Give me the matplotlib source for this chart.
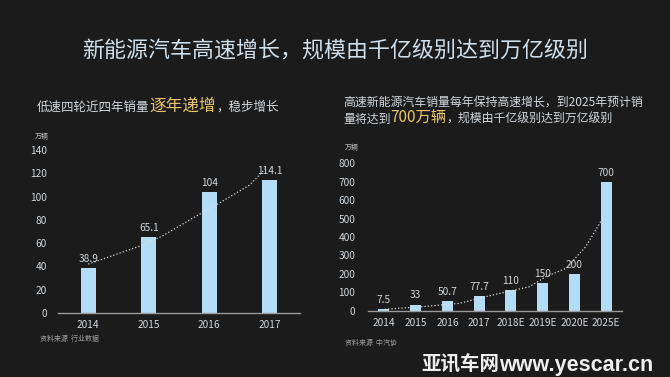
import matplotlib
matplotlib.use("Agg")
import matplotlib.pyplot as plt

plt.rcParams['font.family'] = ['Noto Sans CJK SC', 'DejaVu Sans']

# data
years_left = ['2014', '2015', '2016', '2017']
sales_left = [38.9, 65.1, 104, 114.1]
labels_left = ['38.9', '65.1', '104', '114.1']
trend_left_x = [0, 0.86, 1.22, 1.81, 2.12, 2.67, 2.95]
trend_left_y = [42, 57.6, 66, 84, 93, 110, 125]

years_right = ['2014', '2015', '2016', '2017', '2018E', '2019E', '2020E', '2025E']
sales_right = [7.5, 33, 50.7, 77.7, 110, 150, 200, 700]
labels_right = ['7.5', '33', '50.7', '77.7', '110', '150', '200', '700']
trend_right_x = [0.03, 1.22, 2.38, 3.42, 4.58, 5.1, 5.74, 6.36, 6.83]
trend_right_y = [7.6, 22, 40, 85, 130, 185, 230, 348, 484]

bg = '#1b1b1b'
bar_c = '#b3ddf7'
txt_c = '#d2d8de'
yel = '#e8c56a'

fig = plt.figure(figsize=(6.7, 3.77), dpi=100, facecolor=bg)
W, H = 670.0, 377.0


def px(x, y):
    return x / W, 1 - y / H


def seq_text(x, y, parts, **kw):
    r = fig.canvas.get_renderer()
    fx, fy = px(x, y)
    for s, size, color in parts:
        t = fig.text(fx, fy, s, fontsize=size, color=color, va='baseline', **kw)
        fx += t.get_window_extent(r).width / fig.bbox.width
    return fx


def style(ax):
    ax.set_facecolor(bg)
    for sp in ['top', 'right', 'left']:
        ax.spines[sp].set_visible(False)
    ax.spines['bottom'].set_color('#9a9a9a')
    ax.spines['bottom'].set_linewidth(1.0)
    ax.tick_params(length=0, colors=txt_c, labelsize=7.3)


# title
fig.text(0.5, 1 - 52 / H, '新能源汽车高速增长，规模由千亿级别达到万亿级别',
         ha='center', va='center', fontsize=15.8, color='#cfe0ec')

# left chart
ax1 = fig.add_axes([58 / W, 1 - 313 / H, 242 / W, 163 / H])
style(ax1)
ax1.bar(range(len(years_left)), sales_left, width=0.25, color=bar_c)
ax1.plot(trend_left_x, trend_left_y, ':', color='#dddddd', lw=0.9)
for i, v in enumerate(sales_left):
    ax1.annotate(labels_left[i], (i, v), xytext=(0, 3), textcoords='offset points',
                 ha='center', va='bottom', fontsize=7.3, color=txt_c)
ax1.set_xlim(-0.5, 3.5)
ax1.set_ylim(0, 140)
ax1.set_yticks(range(0, 141, 20))
ax1.set_xticks(range(len(years_left)))
ax1.set_xticklabels(years_left)
ax1.tick_params(axis='y', pad=8)
ax1.tick_params(axis='x', pad=5)

seq_text(37, 111, [('低速四轮近四年销量', 9, txt_c), ('逐年递增', 12, yel), ('，稳步增长', 9, txt_c)])
fig.text(*px(35, 137), '万辆', fontsize=5, color='#bbbbbb', va='center')
fig.text(*px(40, 339), '资料来源  行业数据', fontsize=5, color='#a0a0a0', va='center')

# right chart
ax2 = fig.add_axes([368 / W, 1 - 310.7 / H, 254 / W, 147.4 / H])
style(ax2)
ax2.bar(range(len(years_right)), sales_right, width=0.34, color=bar_c)
ax2.plot(trend_right_x, trend_right_y, ':', color='#dddddd', lw=0.9)
for i, v in enumerate(sales_right):
    ax2.annotate(labels_right[i], (i, v), xytext=(0, 3), textcoords='offset points',
                 ha='center', va='bottom', fontsize=7.3, color=txt_c)
ax2.set_xlim(-0.5, 7.5)
ax2.set_ylim(0, 800)
ax2.set_yticks(range(0, 801, 100))
ax2.set_xticks(range(len(years_right)))
ax2.set_xticklabels(years_right)
ax2.tick_params(axis='y', pad=9)
ax2.tick_params(axis='x', pad=5)

seq_text(343, 106, [('高速新能源汽车销量每年保持高速增长，到2025年预计销', 8.6, txt_c)])
seq_text(343, 123, [('量将达到', 8.6, txt_c), ('700万辆', 11, yel),
                    ('，规模由千亿级别达到万亿级别', 8.6, txt_c)])
fig.text(*px(345, 148), '万辆', fontsize=5, color='#bbbbbb', va='center')
fig.text(*px(345, 343), '资料来源  中汽协', fontsize=5, color='#a0a0a0', va='center')

# watermark
wx = seq_text(421, 371, [('亚讯车网', 14, '#eeeeee')], fontweight='bold')
fig.text(wx, 1 - 371 / H, 'www.yescar.cn', va='baseline', fontsize=15.5,
         fontweight='bold', color='#eeeeee', family='Liberation Sans')

fig.savefig('out.png', dpi=100, facecolor=bg)
